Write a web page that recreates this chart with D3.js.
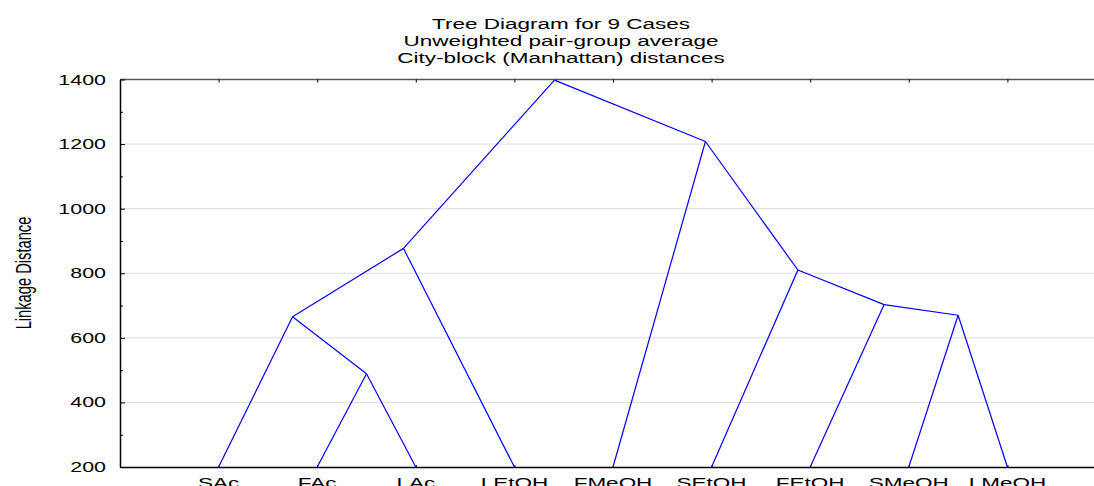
<!DOCTYPE html>
<html>
<head>
<meta charset="utf-8">
<script src="https://cdn.jsdelivr.net/npm/d3@7"></script>
<style>
  html, body { margin: 0; padding: 0; background: #fff; }
  svg { display: block; }
  text { font-family: "Liberation Sans", Arial, sans-serif; fill: #000; }
</style>
</head>
<body>
<svg id="chart" width="1094" height="486"></svg>
<script>
// Cases, in dendrogram leaf order
const leaves = ["SAc", "FAc", "LAc", "LEtOH", "FMeOH", "SEtOH", "FEtOH", "SMeOH", "LMeOH"];

// Agglomeration steps: node ids 0..8 are leaves, each step creates node 9, 10, ...
const mergeA = [1, 0, 7, 6, 5, 10, 4, 14];
const mergeB = [2, 9, 8, 11, 12, 3, 13, 15];
const mergeHeight = [489, 665, 670, 703, 810, 877, 1208, 1398];

const yTicks = [200, 400, 600, 800, 1000, 1200, 1400];
const yMinorTicks = [300, 500, 700, 900, 1100, 1300];

const titleLines = [
  "Tree Diagram for 9 Cases",
  "Unweighted pair-group average",
  "City-block (Manhattan) distances"
];
const yTitle = "Linkage Distance";

const svg = d3.select("#chart");
const plotLeft = 120, plotTop = 79.5, plotBottom = 467;
const step = 98.6;
const stretch = 1.5; // horizontal text stretch

const x = d3.scaleLinear().domain([0, leaves.length + 1]).range([plotLeft, plotLeft + step * (leaves.length + 1)]);
const y = d3.scaleLinear().domain([200, 1400]).range([plotBottom, plotTop]);
const plotRight = x(leaves.length + 1);

// Node positions
const nodes = leaves.map((name, i) => ({ x: i + 1, h: 200, name }));
mergeA.forEach((a, k) => {
  const b = mergeB[k];
  nodes.push({ x: (nodes[a].x + nodes[b].x) / 2, h: mergeHeight[k], a, b });
});

// Gridlines
svg.append("g").selectAll("line").data(yTicks.filter(t => t > 200 && t < 1400)).join("line")
  .attr("x1", plotLeft).attr("x2", plotRight)
  .attr("y1", d => y(d)).attr("y2", d => y(d))
  .attr("stroke", "#dcdcdc").attr("stroke-width", 1);

// Frame top
svg.append("line").attr("x1", plotLeft).attr("x2", plotRight).attr("y1", y(1400)).attr("y2", y(1400))
  .attr("stroke", "#555").attr("stroke-width", 1.3);

// Left axis with inward ticks
const yAxis = d3.axisLeft(y).tickValues(yTicks).tickSizeInner(-5).tickSizeOuter(0).tickFormat("");
const ya = svg.append("g").attr("transform", `translate(${plotLeft},0)`).call(yAxis);
ya.select(".domain").attr("stroke", "#000").attr("stroke-width", 1.5);
ya.selectAll(".tick line").attr("stroke", "#000");
const yMinor = d3.axisLeft(y).tickValues(yMinorTicks).tickSizeInner(-3).tickSizeOuter(0).tickFormat("");
const ym = svg.append("g").attr("transform", `translate(${plotLeft},0)`).call(yMinor);
ym.select(".domain").remove();
ym.selectAll(".tick line").attr("stroke", "#000");

// Y tick labels (stretched horizontally)
svg.append("g").selectAll("g").data(yTicks).join("g")
  .attr("transform", d => `translate(106,${y(d) + 5}) scale(${stretch},1)`)
  .append("text").attr("text-anchor", "end").attr("font-size", 14.3).text(d => d);

// Bottom axis
const xAxis = d3.axisBottom(x).tickValues(d3.range(1, leaves.length + 1)).tickSizeInner(-2).tickSizeOuter(0).tickFormat("");
const xa = svg.append("g").attr("transform", `translate(0,${plotBottom})`).call(xAxis);
xa.select(".domain").attr("stroke", "#000").attr("stroke-width", 1.3);
xa.selectAll(".tick line").attr("stroke", "#000");
// Top frame ticks
const xTop = d3.axisTop(x).tickValues(d3.range(1, leaves.length + 1)).tickSizeInner(-3).tickSizeOuter(0).tickFormat("");
const xt = svg.append("g").attr("transform", `translate(0,${y(1400)})`).call(xTop);
xt.select(".domain").remove();
xt.selectAll(".tick line").attr("stroke", "#000");

// Leaf labels
svg.append("g").selectAll("g").data(leaves).join("g")
  .attr("transform", (d, i) => `translate(${x(i + 1)},${488}) scale(${stretch},1)`)
  .append("text").attr("text-anchor", "middle").attr("font-size", 15).text(d => d);

// Dendrogram branches
const segs = [];
nodes.forEach(n => {
  if (n.a !== undefined) {
    segs.push([nodes[n.a], n]);
    segs.push([nodes[n.b], n]);
  }
});
svg.append("g").selectAll("line").data(segs).join("line")
  .attr("x1", d => x(d[0].x)).attr("y1", d => y(d[0].h))
  .attr("x2", d => x(d[1].x)).attr("y2", d => y(d[1].h))
  .attr("stroke", "#0000ff").attr("stroke-width", 1.2);

// Title
const titleY = [28.5, 45.5, 62.5];
svg.append("g").selectAll("g").data(titleLines).join("g")
  .attr("transform", (d, i) => `translate(561,${titleY[i]}) scale(${stretch},1)`)
  .append("text").attr("text-anchor", "middle").attr("font-size", 15).text(d => d);

// Y axis title
svg.append("g")
  .attr("transform", `translate(31,273) scale(${stretch},1) rotate(-90)`)
  .append("text").attr("text-anchor", "middle").attr("font-size", 14.7).text(yTitle);
</script>
</body>
</html>
